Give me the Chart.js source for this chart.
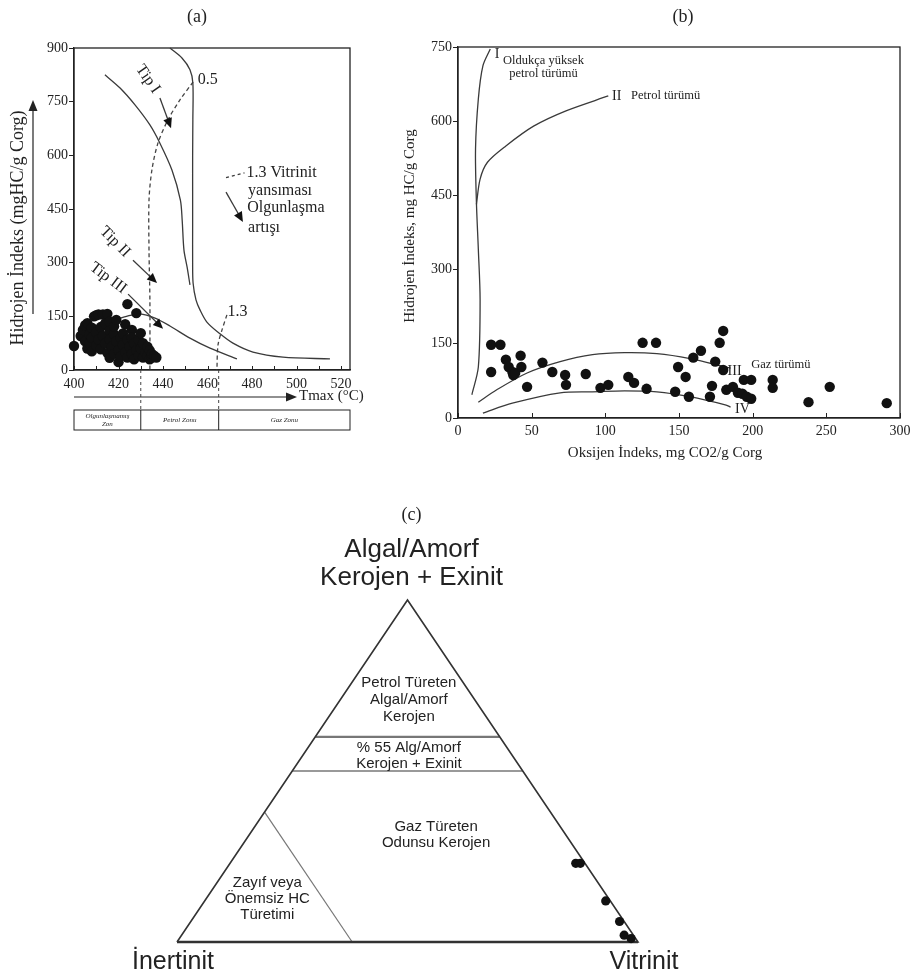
<!DOCTYPE html>
<html>
<head>
<meta charset="utf-8">
<script src="https://cdn.jsdelivr.net/npm/chart.js@4.4.1/dist/chart.umd.min.js"></script>
<style>
  html, body { margin: 0; padding: 0; background: #fff; }
  body { width: 911px; height: 975px; position: relative; overflow: hidden; }
  canvas { position: absolute; }
  #cA { left: 0; top: 0; width: 400px; height: 440px; }
  #cB { left: 400px; top: 0; width: 511px; height: 470px; }
  #cC { left: 0; top: 490px; width: 911px; height: 485px; }
</style>
</head>
<body>
<canvas id="cA" width="400" height="440"></canvas>
<canvas id="cB" width="511" height="470"></canvas>
<canvas id="cC" width="911" height="485"></canvas>
<script>
// ---------- (a) Tmax (°C) vs Hidrojen İndeks ----------
const tmaxA = [400,403,404,405,405,406,406,407,407,408,408,408,409,410,410,410,411,411,412,412,
               413,413,414,414,415,415,416,416,416,416,417,418,418,418,419,419,420,420,421,421,
               422,422,423,423,424,424,424,425,426,426,426,427,427,428,428,429,429,430,430,431,
               431,432,433,433,434,434,435,435,436,437];
const hiA   = [67,95,112,80,125,131,60,100,75,118,90,52,150,153,105,68,155,85,120,58,
               155,95,75,130,157,48,110,34,85,135,65,100,45,122,140,80,22,55,90,38,
               70,102,50,128,85,184,35,65,112,45,90,75,30,55,159,40,85,103,60,35,
               75,50,40,65,55,30,35,45,40,35];

// kerojen evolution paths (a)
const outerPathT  = [443.1,448.5,452.1,453.4,453.4,453.3,453.3,453.3,453.3,453.5,454.8,456.6,459.7,465.6,471.4,480.4,493.9,515];
const outerPathHI = [900,872,839,802,700,600,500,400,300,243,196,168,134,101,75,50,36,31];
const innerPathT  = [413.9,420.7,427.4,434.1,438.6,444.0,447.8,448.6,449.4,450.8,452.1];
const innerPathHI = [825,788,741,685,634,559,475,419,335,288,238];
const tip3PathT   = [418.4,424.3,429.6,436.4,443.1,452.1,461.1,473.2];
const tip3PathHI  = [140,151,157,145,123,89,61,31];
// vitrinite reflectance isolines (a)
const ro05T  = [453.5,447.6,442.2,437.7,435.0,433.7,433.7,434.1,434.1];
const ro05HI = [805,755,699,634,559,475,335,196,0];
const ro13T  = [468.7,466.5,464.7,464.2];
const ro13HI = [154,112,70,0];
// maturity zones along Tmax
const zoneEdges = [400, 430, 465, 524];
const zoneNames = [['Olgunlaşmamış', 'Zon'], ['Petrol Zonu'], ['Gaz Zonu']];

// ---------- (b) Oksijen İndeks vs Hidrojen İndeks ----------
const oiB = [22.5,28.8,22.5,32.5,34.4,36.9,37.5,38.8,42.5,43,46.9,57.3,64,72.7,73.3,86.7,96.7,102,
             115.6,119.5,128,125.3,134.4,147.4,149.4,154.5,156.7,159.7,164.9,171,172.4,174.6,177.6,
             180,180,182.1,186.6,190,193,196,194,199,199,213.6,213.6,237.9,252.3,291];
const hiB = [148,148,93,118,103,93,87,91,126,103,63,112,93,87,67,89,61,67,
             83,71,59,152,152,53,103,83,43,122,136,43,65,114,152,
             176,97,57,63,51,49,43,77,77,39,77,61,32,63,30];

const typeIOI  = [9.4,13.8,15,13.8,12.5,11.9,13.8,16.9,21.9];
const typeIHI  = [47,103,239,341,436,544,645,712,746];
const typeIIOI = [12.5,15,20,32.5,51.3,73.3,102];
const typeIIHI = [432,483,517,550,590,621,651];
const typeIIIOI = [13.8,26.3,46.9,69.3,91.3,113,135,157.5,182,185];
const typeIIIHI = [32,57,91,114,128,132,130,120,103,101];
const typeIVOI = [16.9,36.9,69.3,91.3,113,135,157.5,182,185];
const typeIVHI = [10,30,51,53,55,53,43,26,22];

// ---------- (c) maseral bileşimi (%) ----------
const algalC     = [23, 23, 12, 6, 2, 1];
const vitrinitC  = [75, 76, 87, 93, 96, 98];
const inertinitC = [2, 1, 1, 1, 2, 1];

// ---------- shared styling ----------
const INK = '#222';
const LINE = '#3a3a3a';
const DOT = '#111';
const SERIF = '"Liberation Serif", "Times New Roman", serif';
const SANS = '"Liberation Sans", Arial, sans-serif';

function pts(xs, ys) { return xs.map((v, i) => ({ x: v, y: ys[i] })); }
function curve(xs, ys, opts) {
  return Object.assign({ data: pts(xs, ys), showLine: true, pointRadius: 0, pointHoverRadius: 0,
    borderColor: LINE, backgroundColor: LINE, borderWidth: 1.3, tension: 0.3, clip: false, order: 2 }, opts || {});
}
function dots(xs, ys, r) {
  return { data: pts(xs, ys), pointRadius: r, pointHoverRadius: r, backgroundColor: DOT,
    borderColor: DOT, borderWidth: 0, showLine: false, clip: false, order: 0 };
}
function arrow(ctx, x1, y1, x2, y2, len, wid) {
  const a = Math.atan2(y2 - y1, x2 - x1);
  ctx.beginPath(); ctx.moveTo(x1, y1); ctx.lineTo(x2 - len * 0.5 * Math.cos(a), y2 - len * 0.5 * Math.sin(a)); ctx.stroke();
  ctx.beginPath();
  ctx.moveTo(x2, y2);
  ctx.lineTo(x2 - len * Math.cos(a) + wid * Math.sin(a), y2 - len * Math.sin(a) - wid * Math.cos(a));
  ctx.lineTo(x2 - len * Math.cos(a) - wid * Math.sin(a), y2 - len * Math.sin(a) + wid * Math.cos(a));
  ctx.closePath(); ctx.fill();
}
function label(ctx, s, x, y, font, align, rot) {
  ctx.save();
  ctx.translate(x, y);
  if (rot) ctx.rotate(rot);
  ctx.font = font; ctx.textAlign = align || 'center'; ctx.textBaseline = 'middle'; ctx.fillStyle = INK;
  ctx.fillText(s, 0, 0);
  ctx.restore();
}
function baseOptions(pad) {
  return { responsive: false, animation: false, devicePixelRatio: 1, events: [],
    layout: { padding: pad }, plugins: { legend: { display: false }, tooltip: { enabled: false } } };
}
function frameAndTicks(chart, tickLen) {
  const { ctx, chartArea: ca, scales: { x } } = chart;
  ctx.save();
  ctx.strokeStyle = INK; ctx.lineWidth = 1.3;
  ctx.strokeRect(ca.left, ca.top, ca.right - ca.left, ca.bottom - ca.top);
  ctx.beginPath();
  x.ticks.forEach(t => {
    const p = Math.round(x.getPixelForValue(t.value)) + 0.5;
    ctx.moveTo(p, ca.bottom); ctx.lineTo(p, ca.bottom - tickLen);
  });
  ctx.lineWidth = 1; ctx.stroke();
  ctx.restore();
}
function axisScales(xmin, xmax, xstep, xcb, ymin, ymax, ystep, yw, xh, fs, xpad) {
  return {
    x: { type: 'linear', min: xmin, max: xmax,
      afterFit(s) { s.height = xh; },
      ticks: { stepSize: xstep, includeBounds: false, autoSkip: false, maxRotation: 0, padding: xpad,
        callback: xcb, color: INK, font: { family: SERIF, size: fs } },
      grid: { drawOnChartArea: false, drawTicks: true, tickLength: 5, color: 'rgba(0,0,0,0)' },
      border: { display: true, color: INK, width: 1.3 } },
    y: { type: 'linear', min: ymin, max: ymax,
      afterFit(s) { s.width = yw; },
      ticks: { stepSize: ystep, padding: 1, color: INK, font: { family: SERIF, size: fs } },
      grid: { drawOnChartArea: false, drawTicks: true, tickLength: 5, color: INK, lineWidth: 1 },
      border: { display: true, color: INK, width: 1.3 } }
  };
}

// ---------- (a) ----------
const annotA = {
  id: 'annotA',
  beforeDatasetsDraw(chart) { frameAndTicks(chart, 4); },
  afterDraw(chart) {
    const { ctx, chartArea: ca, scales: { x, y } } = chart;
    const X = v => x.getPixelForValue(v), Y = v => y.getPixelForValue(v);
    ctx.save();
    ctx.strokeStyle = LINE; ctx.fillStyle = '#111'; ctx.lineWidth = 1.3;
    // arrows
    arrow(ctx, X(438.6), Y(760), X(443.6), Y(676), 10, 4.5);
    arrow(ctx, X(426.5), Y(307), X(437.3), Y(243), 10, 4.5);
    arrow(ctx, X(424.3), Y(212), X(440.0), Y(115), 10, 4.5);
    arrow(ctx, X(468.3), Y(497), X(475.9), Y(414), 10, 4.5);
    // isoline note
    ctx.setLineDash([3, 3]);
    ctx.beginPath(); ctx.moveTo(X(468.3), Y(538)); ctx.lineTo(X(476.6), Y(551)); ctx.stroke();
    ctx.setLineDash([]);
    const f16 = '16px ' + SERIF;
    label(ctx, '1.3 Vitrinit', X(477.5), Y(551), f16, 'left');
    label(ctx, 'yansıması', X(478.2), Y(500), f16, 'left');
    label(ctx, 'Olgunlaşma', X(477.8), Y(453), f16, 'left');
    label(ctx, 'artışı', X(478.2), Y(397), f16, 'left');
    label(ctx, '0.5', X(455.6), Y(811), f16, 'left');
    label(ctx, '1.3', X(469.0), Y(163), f16, 'left');
    label(ctx, 'Tip I', X(433.2), Y(813), f16, 'center', 55 * Math.PI / 180);
    label(ctx, 'Tip II', X(418.4), Y(358), f16, 'center', 45 * Math.PI / 180);
    label(ctx, 'Tip III', X(415.3), Y(257), f16, 'center', 37 * Math.PI / 180);
    // Tmax axis arrow + name
    ctx.strokeStyle = INK; ctx.fillStyle = INK; ctx.lineWidth = 1.2;
    const ay = ca.bottom + 27;
    arrow(ctx, ca.left, ay, 297, ay, 11, 4.5);
    label(ctx, 'Tmax (°C)', 299, ay - 1, '15px ' + SERIF, 'left');
    // maturity zone strip
    const top = ca.bottom + 40, bot = ca.bottom + 60;
    ctx.lineWidth = 1;
    ctx.strokeRect(X(zoneEdges[0]), top, X(zoneEdges[3]) - X(zoneEdges[0]), bot - top);
    ctx.beginPath();
    for (let i = 1; i < zoneEdges.length - 1; i++) { ctx.moveTo(X(zoneEdges[i]), top); ctx.lineTo(X(zoneEdges[i]), bot); }
    ctx.stroke();
    ctx.setLineDash([3, 3]); ctx.strokeStyle = '#444';
    ctx.beginPath();
    for (let i = 1; i < zoneEdges.length - 1; i++) { ctx.moveTo(X(zoneEdges[i]), ca.bottom); ctx.lineTo(X(zoneEdges[i]), top); }
    ctx.stroke(); ctx.setLineDash([]);
    zoneNames.forEach((lines, i) => {
      const cx = (X(zoneEdges[i]) + X(zoneEdges[i + 1])) / 2;
      const cy = (top + bot) / 2;
      lines.forEach((s, k) => label(ctx, s, cx, cy + (k - (lines.length - 1) / 2) * 8, 'italic 7px ' + SERIF, 'center'));
    });
    // y title
    label(ctx, 'Hidrojen İndeks (mgHC/g Corg)', 18, 228, '18px ' + SERIF, 'center', -Math.PI / 2);
    ctx.strokeStyle = INK; ctx.fillStyle = INK; ctx.lineWidth = 1.2;
    arrow(ctx, 33, 314, 33, 100, 11, 4.5);
    // panel letter
    label(ctx, '(a)', 197, 17, '18px ' + SERIF, 'center');
    ctx.restore();
  }
};

new Chart(document.getElementById('cA'), {
  type: 'scatter',
  data: { datasets: [
    dots(tmaxA, hiA, 5.2),
    curve(outerPathT, outerPathHI),
    curve(innerPathT, innerPathHI),
    curve(tip3PathT, tip3PathHI),
    curve(ro05T, ro05HI, { borderDash: [4, 3], borderColor: '#444' }),
    curve(ro13T, ro13HI, { borderDash: [4, 3], borderColor: '#444' })
  ] },
  options: Object.assign(baseOptions({ left: 0, right: 50, top: 48, bottom: 0 }), {
    scales: axisScales(400, 524, 10, v => (v % 20 === 0 ? v : ''), 0, 900, 150, 74, 70, 14, 1)
  }),
  plugins: [annotA]
});

// ---------- (b) ----------
const annotB = {
  id: 'annotB',
  beforeDatasetsDraw(chart) { frameAndTicks(chart, 5); },
  afterDraw(chart) {
    const { ctx, scales: { x, y } } = chart;
    const X = v => x.getPixelForValue(v), Y = v => y.getPixelForValue(v);
    ctx.save();
    const f14 = '14px ' + SERIF, f12 = '12.5px ' + SERIF;
    label(ctx, 'I', X(25), Y(736), f14, 'left');
    label(ctx, 'Oldukça yüksek', X(58), Y(722), f12, 'center');
    label(ctx, 'petrol türümü', X(58), Y(696), f12, 'center');
    label(ctx, 'II', X(104.5), Y(651), f14, 'left');
    label(ctx, 'Petrol türümü', X(117.5), Y(651), f12, 'left');
    label(ctx, 'III', X(183), Y(95), f14, 'left');
    label(ctx, 'Gaz türümü', X(199), Y(107), f12, 'left');
    label(ctx, 'IV', X(188), Y(18), f14, 'left');
    label(ctx, 'Hidrojen İndeks, mg HC/g Corg', 10, 226, '15px ' + SERIF, 'center', -Math.PI / 2);
    label(ctx, 'Oksijen İndeks, mg CO2/g Corg', 265, 453, '15px ' + SERIF, 'center');
    label(ctx, '(b)', 283, 17, '18px ' + SERIF, 'center');
    ctx.restore();
  }
};

new Chart(document.getElementById('cB'), {
  type: 'scatter',
  data: { datasets: [
    dots(oiB, hiB, 5.2),
    curve(typeIOI, typeIHI),
    curve(typeIIOI, typeIIHI),
    curve(typeIIIOI, typeIIIHI),
    curve(typeIVOI, typeIVHI)
  ] },
  options: Object.assign(baseOptions({ left: 0, right: 11, top: 47, bottom: 0 }), {
    scales: axisScales(0, 300, 50, v => v, 0, 750, 150, 58, 52, 14, 0)
  }),
  plugins: [annotB]
});

// ---------- (c) ternary: Algal/Amorf – Vitrinit – İnertinit ----------
const tern = (a, v) => ({ x: (v + a / 2) / 100, y: a / 100 });
const seg = (list, opts) => Object.assign({ data: list, showLine: true, pointRadius: 0, pointHoverRadius: 0,
  borderColor: '#333', borderWidth: 1.6, tension: 0, clip: false, order: 2 }, opts || {});

const annotC = {
  id: 'annotC',
  afterDraw(chart) {
    const { ctx, scales: { x, y } } = chart;
    const X = v => x.getPixelForValue(v), Y = v => y.getPixelForValue(v);
    ctx.save();
    const f = '15px ' + SANS;
    const region = [
      ['Petrol Türeten', 0.503, 0.757], ['Algal/Amorf', 0.503, 0.708], ['Kerojen', 0.503, 0.658],
      ['% 55 Alg/Amorf', 0.503, 0.567], ['Kerojen + Exinit', 0.503, 0.520],
      ['Gaz Türeten', 0.562, 0.336], ['Odunsu Kerojen', 0.562, 0.289],
      ['Zayıf veya', 0.196, 0.173], ['Önemsiz HC', 0.196, 0.126], ['Türetimi', 0.196, 0.079]
    ];
    region.forEach(([s, nx, ny]) => label(ctx, s, X(nx), Y(ny), f, 'center'));
    const apex = X(0.5) + 4;
    label(ctx, '(c)', apex, 25, '18px ' + SERIF, 'center');
    label(ctx, 'Algal/Amorf', apex, 60, '26px ' + SANS, 'center');
    label(ctx, 'Kerojen + Exinit', apex, 88, '26px ' + SANS, 'center');
    label(ctx, 'İnertinit', X(0) - 4, Y(0) + 20, '25px ' + SANS, 'center');
    label(ctx, 'Vitrinit', X(1) + 6, Y(0) + 20, '25px ' + SANS, 'center');
    ctx.restore();
  }
};

new Chart(document.getElementById('cC'), {
  type: 'scatter',
  data: { datasets: [
    dots(algalC.map((a, i) => tern(a, vitrinitC[i]).x), algalC.map(a => tern(a, 0).y), 4.6),
    seg([tern(0, 0), tern(0, 100), tern(100, 0), tern(0, 0)]),
    seg([tern(0, 0), tern(0, 100)], { borderWidth: 2.4 }),
    seg([tern(60, 0), tern(60, 40)], { borderColor: '#777', borderWidth: 2.2 }),
    seg([tern(50, 0), tern(50, 50)], { borderColor: '#777', borderWidth: 1.4 }),
    seg([tern(38, 0), tern(0, 38)], { borderColor: '#777', borderWidth: 1.2 })
  ] },
  options: Object.assign(baseOptions({ left: 177, right: 273, top: 110, bottom: 33 }), {
    scales: {
      x: { type: 'linear', min: 0, max: 1, display: false },
      y: { type: 'linear', min: 0, max: 1, display: false }
    }
  }),
  plugins: [annotC]
});
</script>
</body>
</html>
